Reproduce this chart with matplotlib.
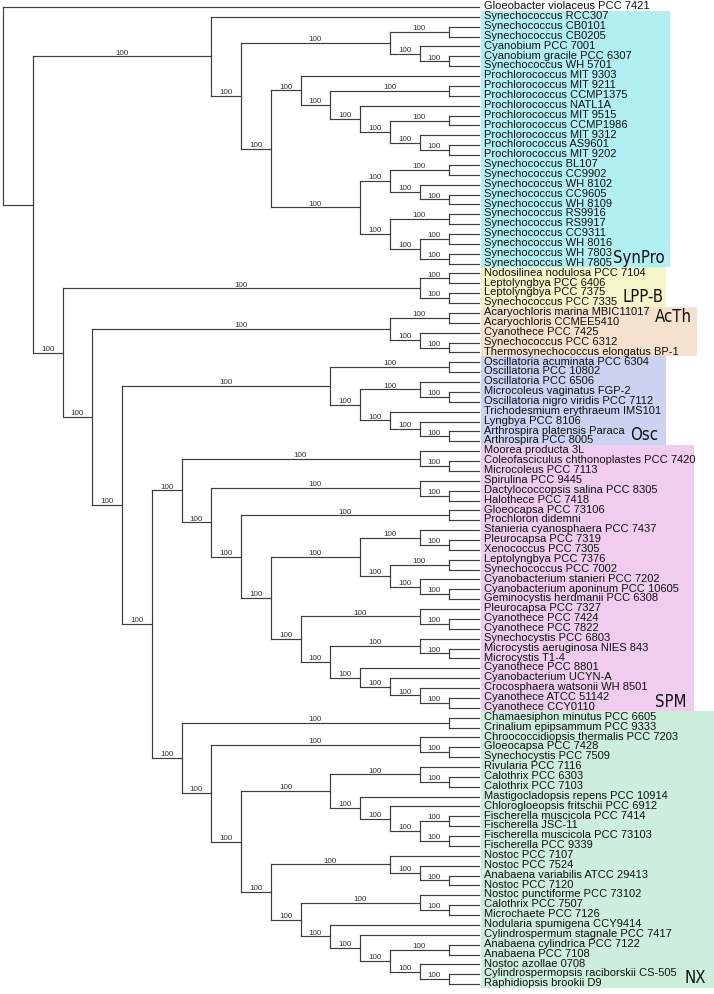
import matplotlib
matplotlib.use("Agg")
import matplotlib.pyplot as plt
from matplotlib.collections import LineCollection
from matplotlib.patches import Rectangle
import matplotlib.transforms as mtransforms

# ---------------- data ----------------
# Cladogram topology: node labels are bootstrap supports, branch lengths are
# the number of drawing levels spanned by each branch (tips end at level 16).
synpro = (
    "(Synechococcus RCC307:9,"
    "(((Synechococcus CB0101:1,Synechococcus CB0205:1)100:2,"
    "(Cyanobium PCC 7001:2,(Cyanobium gracile PCC 6307:1,Synechococcus WH 5701:1)100:1)100:1)100:5,"
    "((Prochlorococcus MIT 9303:6,"
    "((Prochlorococcus MIT 9211:1,Prochlorococcus CCMP1375:1)100:4,"
    "(Prochlorococcus NATL1A:4,"
    "((Prochlorococcus MIT 9515:1,Prochlorococcus CCMP1986:1)100:2,"
    "(Prochlorococcus MIT 9312:2,(Prochlorococcus AS9601:1,Prochlorococcus MIT 9202:1)100:1)100:1)100:1)100:1)100:1)100:1,"
    "(((Synechococcus BL107:1,Synechococcus CC9902:1)100:2,"
    "(Synechococcus WH 8102:2,(Synechococcus CC9605:1,Synechococcus WH 8109:1)100:1)100:1)100:1,"
    "((Synechococcus RS9916:1,Synechococcus RS9917:1)100:2,"
    "((Synechococcus CC9311:1,Synechococcus WH 8016:1)100:1,"
    "(Synechococcus WH 7803:1,Synechococcus WH 7805:1)100:1)100:1)100:1)100:3)100:1)100:1)100:6"
)
lppb = (
    "((Nodosilinea nodulosa PCC 7104:1,Leptolyngbya PCC 6406:1)100:1,"
    "(Leptolyngbya PCC 7375:1,Synechococcus PCC 7335:1)100:1)100:12"
)
acth = (
    "((Acaryochloris marina MBIC11017:1,Acaryochloris CCMEE5410:1)100:2,"
    "(Cyanothece PCC 7425:2,(Synechococcus PCC 6312:1,Thermosynechococcus elongatus BP-1:1)100:1)100:1)100:10"
)
osc = (
    "((Oscillatoria acuminata PCC 6304:1,Oscillatoria PCC 10802:1)100:4,"
    "((Oscillatoria PCC 6506:2,(Microcoleus vaginatus FGP-2:1,Oscillatoria nigro viridis PCC 7112:1)100:1)100:2,"
    "(Trichodesmium erythraeum IMS101:3,(Lyngbya PCC 8106:2,"
    "(Arthrospira platensis Paraca:1,Arthrospira PCC 8005:1)100:1)100:1)100:1)100:1)100:7"
)
spm = (
    "((Moorea producta 3L:2,(Coleofasciculus chthonoplastes PCC 7420:1,Microcoleus PCC 7113:1)100:1)100:8,"
    "((Spirulina PCC 9445:2,(Dactylococcopsis salina PCC 8305:1,Halothece PCC 7418:1)100:1)100:7,"
    "((Gloeocapsa PCC 73106:1,Prochloron didemni:1)100:7,"
    "(((Stanieria cyanosphaera PCC 7437:2,(Pleurocapsa PCC 7319:1,Xenococcus PCC 7305:1)100:1)100:2,"
    "((Leptolyngbya PCC 7376:1,Synechococcus PCC 7002:1)100:2,"
    "(Cyanobacterium stanieri PCC 7202:2,(Cyanobacterium aponinum PCC 10605:1,Geminocystis herdmanii PCC 6308:1)100:1)100:1)100:1)100:3,"
    "((Pleurocapsa PCC 7327:2,(Cyanothece PCC 7424:1,Cyanothece PCC 7822:1)100:1)100:4,"
    "((Synechocystis PCC 6803:2,(Microcystis aeruginosa NIES 843:1,Microcystis T1-4:1)100:1)100:3,"
    "(Cyanothece PCC 8801:4,(Cyanobacterium UCYN-A:3,(Crocosphaera watsonii WH 8501:2,"
    "(Cyanothece ATCC 51142:1,Cyanothece CCY0110:1)100:1)100:1)100:1)100:1)100:1)100:1)100:1)100:1)100:1)100:1"
)
nx = (
    "((Chamaesiphon minutus PCC 6605:1,Crinalium epipsammum PCC 9333:1)100:9,"
    "((Chroococcidiopsis thermalis PCC 7203:2,(Gloeocapsa PCC 7428:1,Synechocystis PCC 7509:1)100:1)100:7,"
    "(((Rivularia PCC 7116:2,(Calothrix PCC 6303:1,Calothrix PCC 7103:1)100:1)100:3,"
    "(Mastigocladopsis repens PCC 10914:4,(Chlorogloeopsis fritschii PCC 6912:3,"
    "((Fischerella muscicola PCC 7414:1,Fischerella JSC-11:1)100:1,"
    "(Fischerella muscicola PCC 73103:1,Fischerella PCC 9339:1)100:1)100:1)100:1)100:1)100:3,"
    "((Nostoc PCC 7107:3,(Nostoc PCC 7524:2,(Anabaena variabilis ATCC 29413:1,Nostoc PCC 7120:1)100:1)100:1)100:4,"
    "((Nostoc punctiforme PCC 73102:2,(Calothrix PCC 7507:1,Microchaete PCC 7126:1)100:1)100:4,"
    "(Nodularia spumigena CCY9414:5,(Cylindrospermum stagnale PCC 7417:4,"
    "((Anabaena cylindrica PCC 7122:1,Anabaena PCC 7108:1)100:2,"
    "(Nostoc azollae 0708:2,(Cylindrospermopsis raciborskii CS-505:1,Raphidiopsis brookii D9:1)100:1)100:1)100:1)100:1)100:1)100:1)100:1)100:1)100:1)100:1"
)
tree_newick = (
    "(Gloeobacter violaceus PCC 7421:16,(" + synpro + ",(" + lppb + ",(" + acth + ",(" + osc +
    ",(" + spm + "," + nx + ")100:1)100:1)100:1)100:1):1);"
)

clade_names = ["SynPro", "LPP-B", "AcTh", "Osc", "SPM", "NX"]
clade_first = ["Synechococcus RCC307", "Nodosilinea nodulosa PCC 7104", "Acaryochloris marina MBIC11017",
               "Oscillatoria acuminata PCC 6304", "Moorea producta 3L", "Chamaesiphon minutus PCC 6605"]
clade_last = ["Synechococcus WH 7805", "Synechococcus PCC 7335", "Thermosynechococcus elongatus BP-1",
              "Arthrospira PCC 8005", "Cyanothece CCY0110", "Raphidiopsis brookii D9"]
clade_label_at = ["Synechococcus WH 7803", "Leptolyngbya PCC 7375", "Acaryochloris marina MBIC11017",
                  "Arthrospira platensis Paraca", "Cyanothece ATCC 51142", "Cylindrospermopsis raciborskii CS-505"]

# ---------------- styles ----------------
clade_colors = ["#b1eff3", "#f6f5c9", "#f5e1cd", "#ccd3f2", "#f0cdef", "#cdeedb"]
clade_box_right_px = [670, 666, 697, 666, 694, 714]
clade_label_pad_px = [5, 3, 5, 8, 7, 8]

W, H = 714, 995
X0_PX, LEVEL_PX = 3.0, 29.75      # root x and horizontal step per level
Y0_PX, ROW_PX = 8.0, 9.87         # first tip y and row step


def parse_newick(s):
    s = s.strip().rstrip(";")
    pos = 0

    def node():
        nonlocal pos
        children = []
        if s[pos] == "(":
            pos += 1
            while True:
                children.append(node())
                if s[pos] == ",":
                    pos += 1
                    continue
                if s[pos] == ")":
                    pos += 1
                    break
        start = pos
        while pos < len(s) and s[pos] not in ":,)":
            pos += 1
        label = s[start:pos].strip()
        length = 0.0
        if pos < len(s) and s[pos] == ":":
            pos += 1
            start = pos
            while pos < len(s) and s[pos] not in ",)":
                pos += 1
            length = float(s[start:pos])
        return {"name": label, "children": children, "length": length}

    return node()


root = parse_newick(tree_newick)

tips = []


def layout(n, depth):
    n["x"] = depth + (n["length"] if n is not root else 0)
    if n["children"]:
        for c in n["children"]:
            layout(c, n["x"])
        n["y"] = (n["children"][0]["y"] + n["children"][-1]["y"]) / 2.0
    else:
        n["y"] = float(len(tips))
        tips.append(n)


root["length"] = 0.0
layout(root, 0.0)
tip_y = {t["name"]: t["y"] for t in tips}
max_x = max(t["x"] for t in tips)

# ---------------- figure ----------------
fig = plt.figure(figsize=(W / 100, H / 100), dpi=100)
ax = fig.add_axes([0, 0, 1, 1])
ax.set_xlim(-X0_PX / LEVEL_PX, (W - X0_PX) / LEVEL_PX)
ax.set_ylim((H - Y0_PX) / ROW_PX, -Y0_PX / ROW_PX)
ax.axis("off")


def px_to_x(px):
    return (px - X0_PX) / LEVEL_PX


# clade background boxes
for name, f, l, col, rpx in zip(clade_names, clade_first, clade_last, clade_colors, clade_box_right_px):
    y0 = tip_y[f] - 0.64
    y1 = tip_y[l] + 0.36
    x0 = max_x + 0.07
    ax.add_patch(Rectangle((x0, y0), px_to_x(rpx) - x0, y1 - y0, facecolor=col,
                           edgecolor="none", zorder=0))

# branches
segs = []
labels = []


def collect(n):
    if not n["children"]:
        return
    ys = [c["y"] for c in n["children"]]
    segs.append([(n["x"], min(ys)), (n["x"], max(ys))])
    for c in n["children"]:
        segs.append([(n["x"], c["y"]), (c["x"], c["y"])])
        if c["children"] and c["name"]:
            labels.append(((n["x"] + c["x"]) / 2.0, c["y"], c["name"]))
        collect(c)


collect(root)
lc = LineCollection(segs, colors="#3c3c3c", linewidths=0.85, capstyle="projecting", zorder=2)
ax.add_collection(lc)

sup_tr = mtransforms.offset_copy(ax.transData, fig=fig, x=0, y=2.0, units="points")
for x, y, t in labels:
    ax.text(x, y, t, fontsize=5.8, family=["Liberation Sans", "DejaVu Sans"], color="#333333",
            ha="center", va="baseline", transform=sup_tr, zorder=3)

tip_tr = mtransforms.offset_copy(ax.transData, fig=fig, x=3.6, y=1.3, units="points")
for t in tips:
    ax.text(t["x"], t["y"], t["name"], fontsize=8, family=["Liberation Sans", "DejaVu Sans"],
            color="#111111", ha="left", va="center", transform=tip_tr, zorder=3)

for name, at, rpx, pad in zip(clade_names, clade_label_at, clade_box_right_px, clade_label_pad_px):
    ax.text(px_to_x(rpx - pad), tip_y[at] + 0.3, name, fontsize=12,
            family="DejaVu Sans", fontstretch="condensed",
            color="#111111", ha="right", va="center", zorder=3)

fig.savefig("out.png", dpi=100)
